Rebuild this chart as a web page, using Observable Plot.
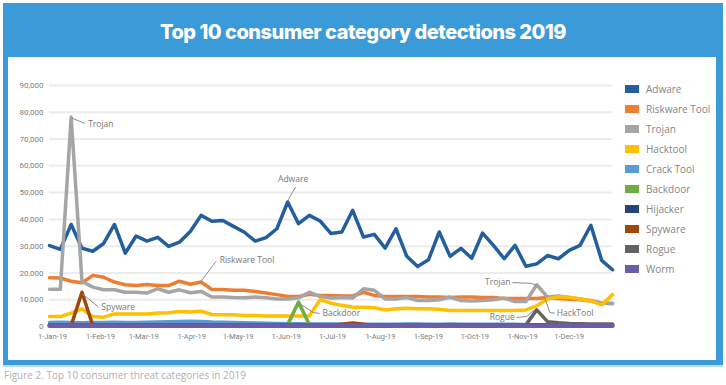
<!DOCTYPE html>
<html>
<head>
<meta charset="utf-8">
<script src="https://cdn.jsdelivr.net/npm/d3@7"></script>
<script src="https://cdn.jsdelivr.net/npm/@observablehq/plot@0.6"></script>
<style>
  body { margin: 0; width: 726px; height: 385px; background: #fff; position: relative; overflow: hidden; }
  #frame { position: absolute; left: 3px; top: 3px; width: 720px; height: 362px; background: #3b9ad8; box-shadow: 0 2px 0 #b9ddf3; }
  #inner { position: absolute; left: 8px; top: 57px; width: 708px; height: 303px; background: #fff; }
  #title { position: absolute; left: 3px; width: 720px; top: 20px; text-align: center; color: #fff;
           font-family: Inter, sans-serif; font-weight: 800; font-size: 20px; letter-spacing: -0.5px; }
  #chart { position: absolute; left: 0; top: 60px; }
  #legend { position: absolute; left: 625px; top: 79px; font-family: "Open Sans", sans-serif; font-size: 10px; color: #858585; }
  .row { height: 20px; display: flex; align-items: center; }
  .sw { width: 14px; height: 8px; margin-right: 7px; }
  #caption { position: absolute; left: 4px; top: 368px; font-family: "Open Sans", sans-serif; font-size: 10px; color: #b0b0b0; }
</style>
</head>
<body>
<div id="frame"></div>
<div id="inner"></div>
<div id="title">Top 10 consumer category detections 2019</div>
<div id="chart"></div>
<div id="legend"></div>
<div id="caption">Figure 2. Top 10 consumer threat categories in 2019</div>
<script>
const dates = ["2019-01-01","2019-01-08","2019-01-15","2019-01-22","2019-01-29","2019-02-05","2019-02-12","2019-02-19","2019-02-26",
  "2019-03-05","2019-03-12","2019-03-19","2019-03-26","2019-04-02","2019-04-09","2019-04-16","2019-04-23","2019-04-30",
  "2019-05-07","2019-05-14","2019-05-21","2019-05-28","2019-06-04","2019-06-11","2019-06-18","2019-06-25",
  "2019-07-02","2019-07-09","2019-07-16","2019-07-23","2019-07-30","2019-08-06","2019-08-13","2019-08-20","2019-08-27",
  "2019-09-03","2019-09-10","2019-09-17","2019-09-24","2019-10-01","2019-10-08","2019-10-15","2019-10-22","2019-10-29",
  "2019-11-05","2019-11-12","2019-11-19","2019-11-26","2019-12-03","2019-12-10","2019-12-17","2019-12-24","2019-12-31"];

const adware = [30200,28800,38100,29200,28100,31000,38100,27400,33800,31900,
  33300,29900,31500,35500,41500,39300,39600,37400,35200,31900,
  33200,36500,46500,38400,41500,39400,34700,35300,43400,33400,
  34400,29300,36500,26200,22400,24900,35300,26200,29200,25500,
  34900,30300,25300,30300,22500,23400,26500,25300,28400,30300,
  37800,24700,21200];
const riskwareTool = [18200,18100,16900,16300,19100,18400,16600,15600,15300,15700,
  15300,15300,16900,15800,16600,13800,13800,13500,13500,13100,
  12500,11900,11200,11200,12000,11600,11600,11400,11400,12800,
  11600,11200,11200,11200,11200,11000,11000,10800,11000,11000,
  10800,10800,10500,10500,10500,10500,10800,10500,10200,10000,
  9500,8800,8500];
const trojan = [13900,13900,78200,16800,14700,13700,13700,12800,12800,12500,
  14100,12800,13700,12600,13100,11000,11000,10800,10700,11000,
  10700,10300,10300,10700,12800,11200,10600,10800,10600,14100,
  13500,10300,10300,10800,9700,9700,10000,11000,9700,9500,
  9700,10000,10600,9300,9300,15600,11000,11400,10800,10300,
  9700,8700,8700];
const hacktool = [3700,3700,5000,6600,3700,3500,4700,4700,4700,4700,
  5000,5100,5600,5400,5700,4500,4400,4400,4100,4100,
  3900,3900,3900,3900,3900,10000,8700,7900,7200,7200,
  7000,6200,6600,6800,6600,6600,6400,6000,6000,6000,
  6000,6000,6000,6000,6200,7700,10300,11100,10900,10300,
  9600,8100,11900];
const crackTool = [1500,1600,1500,1400,1500,1500,1600,1500,1500,1600,
  1700,1800,1900,2000,1900,1700,1600,1500,1400,1300,
  1200,1100,1000,1000,900,900,900,900,800,800,
  800,800,800,900,900,800,800,900,800,800,
  800,800,800,800,700,700,700,700,700,700,
  700,700,700];
const backdoor = [700,700,700,700,700,700,700,700,700,700,
  700,700,700,700,700,700,700,700,700,700,
  700,700,700,9100,700,700,700,700,700,700,
  700,700,700,700,700,700,700,700,700,700,
  700,700,700,700,700,700,700,700,700,700,
  700,700,700];
const hijacker = [600,600,600,600,600,600,600,600,600,600,
  600,600,600,600,600,600,600,600,600,600,
  600,600,600,600,600,600,600,600,600,600,
  600,600,600,600,600,600,600,600,600,600,
  600,600,600,600,600,600,600,600,600,600,
  600,600,600];
const spyware = [400,400,400,12800,400,400,400,400,400,400,
  400,400,400,400,400,400,400,400,400,400,
  400,400,400,400,400,400,400,800,1300,800,
  400,400,400,400,400,400,400,400,400,400,
  400,400,400,400,400,400,400,400,400,400,
  400,400,400];
const rogue = [500,500,500,500,500,500,500,500,500,500,
  500,500,500,500,500,500,500,500,500,500,
  500,500,500,500,500,500,500,500,500,500,
  500,500,500,500,500,500,500,500,500,500,
  500,500,500,500,600,6200,1800,1400,1100,1000,
  900,900,900];
const worm = [300,300,300,300,300,300,300,300,300,300,
  300,300,300,300,300,300,300,300,300,300,
  300,300,300,300,300,300,300,300,300,300,
  300,300,300,300,300,300,300,300,300,300,
  300,300,300,300,300,300,300,300,300,300,
  300,300,300];

const seriesNames = ["Adware","Riskware Tool","Trojan","Hacktool","Crack Tool","Backdoor","Hijacker","Spyware","Rogue","Worm"];
const seriesValues = [adware, riskwareTool, trojan, hacktool, crackTool, backdoor, hijacker, spyware, rogue, worm];
const seriesColors = ["#245e9c","#ed7d31","#a5a5a5","#ffc000","#5b9bd5","#70ad47","#264478","#9e480e","#636363","#6b5ea8"];

const yTicks = [0,10000,20000,30000,40000,50000,60000,70000,80000,90000];
const xTicks = ["2019-01-01","2019-02-01","2019-03-01","2019-04-01","2019-05-01","2019-06-01",
  "2019-07-01","2019-08-01","2019-09-01","2019-10-01","2019-11-01","2019-12-01"];

const annoLabels = ["Trojan","Spyware","Riskware Tool","Adware","Backdoor","Trojan","Rogue","HackTool"];
const annoDates = ["2019-01-26T00:00","2019-02-03T12:00","2019-04-21T00:00","2019-06-07T12:00","2019-06-26T12:00","2019-10-26T00:00","2019-10-28T18:00","2019-11-25T00:00"];
const annoValues = [75500,7100,24900,54800,4900,16400,3400,5000];
const annoAnchors = ["start","start","start","middle","start","end","end","start"];

const leaderIds = [1,1, 2,2, 3,3, 4,4, 5,5,5, 6,6,6, 7,7,7, 8,8,8];
const leaderDates = ["2019-01-15T16:00","2019-01-23T12:00",
  "2019-01-22T12:00","2019-02-01T12:00",
  "2019-04-09T00:00","2019-04-18T12:00",
  "2019-06-04T12:00","2019-06-09T00:00",
  "2019-06-11T12:00","2019-06-20T18:00","2019-06-24T12:00",
  "2019-10-27T12:00","2019-11-08T18:00","2019-11-11T12:00",
  "2019-10-30T00:00","2019-11-05T12:00","2019-11-10T00:00",
  "2019-11-17T06:00","2019-11-20T12:00","2019-11-23T12:00"];
const leaderValues = [77800,75900, 12000,7400, 16900,24200, 47500,52000, 8600,5200,4900,
  16400,16100,15300, 3400,3700,6000, 10800,5200,5000];

const parse = s => new Date(s.length > 10 ? s + "Z" : s);
const rows = seriesNames.flatMap((name, k) => seriesValues[k].map((v, i) => ({name, date: parse(dates[i]), value: v})));
const annos = annoLabels.map((t, i) => ({text: t, date: parse(annoDates[i]), value: annoValues[i], anchor: annoAnchors[i]}));
const leaders = leaderIds.map((id, i) => ({id, date: parse(leaderDates[i]), value: leaderValues[i]}));

const lineMarks = seriesNames.map((name, k) =>
  Plot.line(rows.filter(d => d.name === name), {x: "date", y: "value", stroke: seriesColors[k],
    strokeWidth: name === "Worm" ? 4.5 : 3.5, strokeLinejoin: "round"}));

const textMarks = ["start", "middle", "end"].map(a =>
  Plot.text(annos.filter(d => d.anchor === a), {x: "date", y: "value", text: "text", textAnchor: a,
    fill: "#777", fontSize: 8.5, fontFamily: "Open Sans, sans-serif"}));

const chart = Plot.plot({
  width: 620, height: 290,
  marginLeft: 49, marginRight: 8, marginTop: 25, marginBottom: 24,
  style: {fontFamily: "Roboto, sans-serif", fontSize: "8px", color: "#777", background: "transparent", overflow: "visible"},
  x: {type: "utc", domain: [parse("2019-01-01"), parse("2019-12-31")]},
  y: {domain: [0, 90000]},
  marks: [
    Plot.ruleY(yTicks, {stroke: "#ececec", strokeWidth: 2}),
    Plot.axisY(yTicks, {tickSize: 0, tickPadding: 6, tickFormat: d3.format(","), label: null, fill: "#808080", fontSize: 8}),
    Plot.axisX(xTicks.map(parse), {tickSize: 0, tickPadding: 7, tickFormat: d3.utcFormat("%-d-%b-%y"), label: null, dx: 3, fill: "#808080", fontSize: 7.5}),
    ...lineMarks,
    Plot.line(leaders, {x: "date", y: "value", z: "id", stroke: "#8c8c8c", strokeWidth: 1}),
    ...textMarks
  ]
});
document.getElementById("chart").appendChild(chart);

const legend = document.getElementById("legend");
seriesNames.forEach((name, k) => {
  const row = document.createElement("div");
  row.className = "row";
  const sw = document.createElement("div");
  sw.className = "sw";
  sw.style.background = seriesColors[k];
  const lab = document.createElement("span");
  lab.textContent = name;
  row.appendChild(sw);
  row.appendChild(lab);
  legend.appendChild(row);
});
</script>
</body>
</html>
